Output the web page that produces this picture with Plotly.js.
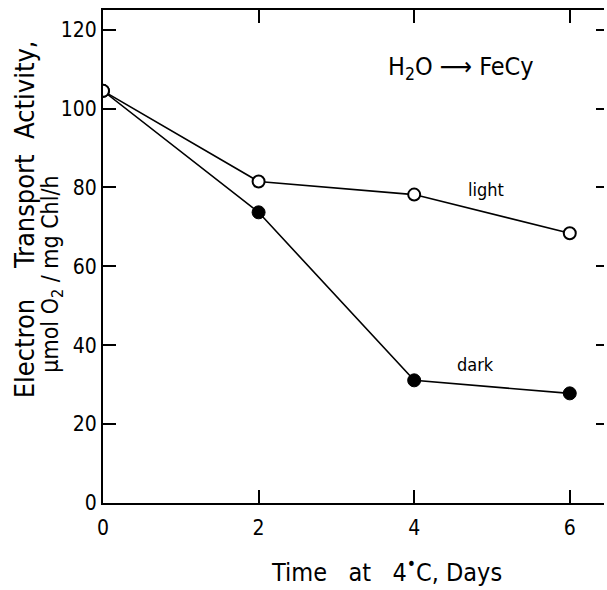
<!DOCTYPE html>
<html>
<head>
<meta charset="utf-8">
<script src="https://cdn.plot.ly/plotly-3.0.1.min.js"></script>
<style>html,body{margin:0;padding:0;background:#fff;}#chart{width:607px;height:590px;}</style>
</head>
<body>
<div id="chart"></div>
<script>
const days = [0, 2, 4, 6];
const lightValues = [104.5, 81.5, 78.2, 68.4];
const darkValues = [104.5, 73.7, 31.1, 27.8];
const xTickVals = [0, 2, 4, 6];
const xTickText = ['0', '2', '4', '6'];
const yTickVals = [0, 20, 40, 60, 80, 100, 120];
const yTickText = ['0', '20', '40', '60', '80', '100', '120'];

const FONT = '"DejaVu Sans Condensed", "Liberation Sans Narrow", "DejaVu Sans", sans-serif';

const traces = [
  {
    x: days, y: darkValues, mode: 'lines+markers', name: 'dark',
    line: {color: '#000', width: 1.6},
    marker: {symbol: 'circle', size: 13, color: '#000', line: {color: '#000', width: 1}}
  },
  {
    x: days, y: lightValues, mode: 'lines+markers', name: 'light',
    line: {color: '#000', width: 1.6},
    marker: {symbol: 'circle', size: 12, color: '#fff', line: {color: '#000', width: 2}}
  },
  {
    x: [days[0]], y: [lightValues[0]], yaxis: 'y2', mode: 'markers',
    marker: {opacity: 0}, hoverinfo: 'skip', showlegend: false
  }
];

const layout = {
  width: 607, height: 590,
  margin: {l: 103, r: 3, t: 10, b: 87},
  paper_bgcolor: '#fff', plot_bgcolor: '#fff',
  showlegend: false,
  font: {family: FONT, color: '#000', size: 20},
  xaxis: {
    range: [0, 6.44], tickvals: xTickVals, ticktext: xTickText,
    ticks: 'inside', ticklen: 13, tickwidth: 2, tickcolor: '#000',
    showline: true, linewidth: 2, linecolor: '#000', mirror: 'ticks',
    showgrid: false, zeroline: false,
    tickfont: {family: FONT, size: 21}, ticklabelstandoff: 5
  },
  yaxis: {
    range: [0, 125], tickvals: yTickVals, ticktext: yTickText,
    ticks: 'inside', ticklen: 13, tickwidth: 2, tickcolor: '#000',
    showline: true, linewidth: 2, linecolor: '#000',
    showgrid: false, zeroline: false,
    tickfont: {family: FONT, size: 21}, ticklabelstandoff: 0
  },
  yaxis2: {
    overlaying: 'y', side: 'right', range: [0, 125], tickvals: yTickVals,
    ticks: 'inside', ticklen: 8, tickwidth: 2, tickcolor: '#000',
    showline: false, showticklabels: false, showgrid: false, zeroline: false
  },
  annotations: [
    {xref: 'paper', yref: 'paper', x: 0.565, y: -0.136, xanchor: 'center', yanchor: 'middle',
     text: 'Time\u00a0\u00a0 at\u00a0\u00a0 4<sup>\u2022</sup>C, Days', showarrow: false,
     font: {family: FONT, size: 25}},
    {xref: 'paper', yref: 'paper', x: -0.156, y: 0.575, xanchor: 'center', yanchor: 'middle',
     text: 'Electron\u00a0\u00a0\u00a0 Transport\u00a0 Activity,', textangle: -90, showarrow: false,
     font: {family: FONT, size: 27}},
    {xref: 'paper', yref: 'paper', x: -0.102, y: 0.465, xanchor: 'center', yanchor: 'middle',
     text: '\u00b5mol O<sub>2</sub> / mg Chl/h', textangle: -90, showarrow: false,
     font: {family: FONT, size: 23}},
    {xref: 'x', yref: 'y', x: 4.6, y: 110.3, xanchor: 'center', yanchor: 'middle',
     text: 'H<sub>2</sub>O \u27F6 FeCy', showarrow: false,
     font: {family: FONT, size: 25}},
    {xref: 'x', yref: 'y', x: 4.92, y: 79.4, xanchor: 'center', yanchor: 'middle',
     text: 'light', showarrow: false, font: {family: FONT, size: 18}},
    {xref: 'x', yref: 'y', x: 4.79, y: 35.2, xanchor: 'center', yanchor: 'middle',
     text: 'dark', showarrow: false, font: {family: FONT, size: 18}}
  ]
};

Plotly.newPlot('chart', traces, layout, {displayModeBar: false, staticPlot: true});
</script>
</body>
</html>
